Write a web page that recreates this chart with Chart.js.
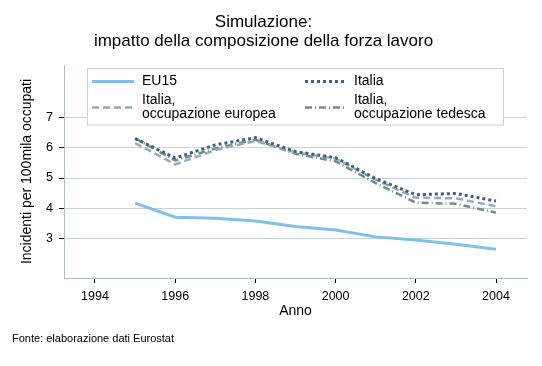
<!DOCTYPE html>
<html><head><meta charset="utf-8">
<script src="https://cdn.jsdelivr.net/npm/chart.js@4"></script>
<style>html,body{margin:0;padding:0;background:#fff}#wrap{width:542px;height:366px;position:relative}</style>
</head><body><div id="wrap"><canvas id="c" width="542" height="366"></canvas></div>
<script>
const years = [1995,1996,1997,1998,1999,2000,2001,2002,2003,2004];
const eu15 = [4.17,3.71,3.67,3.58,3.40,3.29,3.06,2.96,2.82,2.65];
const italia = [6.30,5.66,6.09,6.33,5.87,5.67,4.98,4.45,4.49,4.24];
const italiaEuropea = [6.15,5.45,5.92,6.22,5.84,5.64,4.94,4.35,4.33,4.07];
const italiaTedesca = [6.31,5.58,5.97,6.26,5.80,5.55,4.83,4.19,4.15,3.86];
const xTicks = [1994,1996,1998,2000,2002,2004];
const yTicks = [3,4,5,6,7];
const titleLines = ['Simulazione:', 'impatto della composizione della forza lavoro'];
const seriesLabels = ['EU15', 'Italia', ['Italia,', 'occupazione europea'], ['Italia,', 'occupazione tedesca']];
const xTitle = 'Anno';
const yTitle = 'Incidenti per 100mila occupati';
const sourceNote = 'Fonte: elaborazione dati Eurostat';

const FONT = 'Arial, "Liberation Sans", sans-serif';
const toPts = arr => years.map((y,i)=>({x:y,y:arr[i]}));

const styles = [
  {color:'#80c0ea', width:3, dash:[]},
  {color:'#3a6480', width:3, dash:[3,3]},
  {color:'#95a8c0', width:2.5, dash:[7,4]},
  {color:'#6e9080', width:2.5, dash:[7,3,1,3]}
];
const seriesData = [eu15, italia, italiaEuropea, italiaTedesca];

const legendPlugin = {
  id:'customLegend',
  afterDraw(chart){
    const ctx = chart.ctx;
    ctx.save();
    ctx.fillStyle = '#ffffff';
    ctx.fillRect(87.5,68.5,416,56.5);
    ctx.strokeStyle = '#c8d4de';
    ctx.lineWidth = 1;
    ctx.strokeRect(87.5,68.5,416,56.5);
    const cells = [
      {sx:92, ex:134, tx:142, y:81.5},
      {sx:305, ex:346, tx:354, y:81.5},
      {sx:92, ex:134, tx:142, y:107.5},
      {sx:305, ex:346, tx:354, y:107.5}
    ];
    chart.data.datasets.forEach((ds,i)=>{
      const c = cells[i];
      ctx.strokeStyle = ds.borderColor;
      ctx.lineWidth = ds.borderWidth;
      ctx.setLineDash(ds.borderDash || []);
      ctx.beginPath(); ctx.moveTo(c.sx,c.y); ctx.lineTo(c.ex,c.y); ctx.stroke();
      ctx.setLineDash([]);
      ctx.fillStyle = '#000';
      ctx.font = '14px ' + FONT;
      ctx.textBaseline = 'middle';
      ctx.textAlign = 'left';
      const lbl = seriesLabels[i];
      if (Array.isArray(lbl)) {
        ctx.fillText(lbl[0], c.tx, c.y-7.5);
        ctx.fillText(lbl[1], c.tx, c.y+6.5);
      } else ctx.fillText(lbl, c.tx, c.y);
    });
    ctx.font = '11px ' + FONT;
    ctx.fillStyle = '#000';
    ctx.fillText(sourceNote, 12, 338.5);
    ctx.restore();
  }
};

new Chart(document.getElementById('c'), {
  type:'line',
  data:{
    datasets: seriesData.map((d,i)=>({
      label: Array.isArray(seriesLabels[i]) ? seriesLabels[i].join(' ') : seriesLabels[i],
      data: toPts(d),
      borderColor: styles[i].color,
      backgroundColor: styles[i].color,
      borderWidth: styles[i].width,
      borderDash: styles[i].dash,
      pointRadius: 0,
      tension: 0,
      fill:false
    }))
  },
  options:{
    responsive:false,
    animation:false,
    layout:{padding:{left:0,right:15,top:0,bottom:46}},
    plugins:{
      legend:{display:false},
      tooltip:{enabled:false},
      title:{
        display:true,
        text:titleLines,
        color:'#000',
        font:{family:FONT,size:17,weight:'normal',lineHeight:1.08},
        padding:{top:13.5,bottom:14.8}
      }
    },
    scales:{
      x:{
        type:'linear',
        min:1993.227, max:2004.773,
        afterBuildTicks(s){ s.ticks = xTicks.map(v=>({value:v})); },
        afterFit(s){ s.height = 42; },
        grid:{drawOnChartArea:false, drawTicks:true, tickLength:5, tickColor:'#000', tickWidth:1},
        border:{color:'#aebccb', width:1},
        ticks:{color:'#000', font:{family:FONT,size:12.5}, padding:6, maxRotation:0, autoSkip:false, callback:v=>String(v)},
        title:{display:true, text:xTitle, color:'#000', font:{family:FONT,size:14}, padding:{top:0,bottom:0}}
      },
      y:{
        type:'linear',
        min:1.705, max:8.723,
        afterBuildTicks(s){ s.ticks = yTicks.map(v=>({value:v})); },
        afterFit(s){ s.width = 64; },
        grid:{color:'#c6d4df', lineWidth:1, drawTicks:true, tickLength:5, tickColor:'#000'},
        border:{color:'#aebccb', width:1},
        ticks:{color:'#000', font:{family:FONT,size:12.5}, padding:6, autoSkip:false, callback:v=>String(v)},
        title:{display:true, text:yTitle, color:'#000', font:{family:FONT,size:14}, padding:{top:19,bottom:0}}
      }
    }
  },
  plugins:[legendPlugin]
});
</script>
</body></html>
